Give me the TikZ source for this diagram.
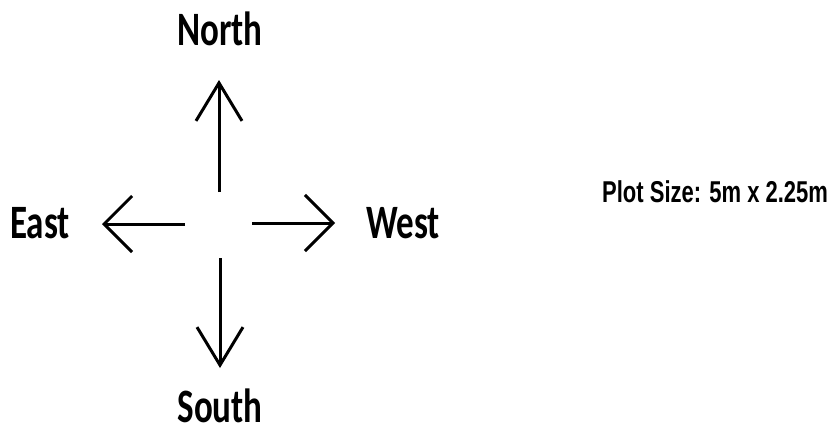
\documentclass[tikz,border=0pt]{standalone}
\usepackage{fontspec}
\setmainfont{Carlito}
\newfontfamily\plotfont{Liberation Sans}
\usetikzlibrary{arrows.meta}
\tikzset{
  dirlabel/.style={inner sep=0pt, font=\fontsize{35}{40}\selectfont\bfseries},
  vbarb/.style={line width=3pt, -{Straight Barb[length=38pt 0, width=46pt 0, line width=3pt]}},
  hbarb/.style={line width=3pt, -{Straight Barb[length=28pt 0, width=56pt 0, line width=3pt]}},
}
\newcommand{\tallbox}[1]{\scalebox{1}[1.37]{#1}}
\begin{document}
\begin{tikzpicture}[x=1pt, y=-1pt]
  \useasboundingbox (0,0) rectangle (833,434);
  % compass labels
  \node[dirlabel, anchor=base] (north) at (220,45) {\tallbox{North}};
  \node[dirlabel, anchor=base] (south) at (220,422) {\tallbox{South}};
  \node[dirlabel, anchor=base west] (east) at (10,238) {\tallbox{East}};
  \node[dirlabel, anchor=base west] (west) at (366,238) {\tallbox{West}};
  % plot size note
  \node[inner sep=0pt, anchor=base west, font=\plotfont\fontsize{22}{26}\selectfont\bfseries] (plotsize) at (602,202) {\tallbox{Plot Size: 5m x 2.25m}};
  % arrow ends
  \coordinate (nstart) at (219,192);
  \coordinate (ntip) at (219,80);
  \coordinate (sstart) at (220,258);
  \coordinate (stip) at (220,368);
  \coordinate (estart) at (185,224);
  \coordinate (etip) at (102,224);
  \coordinate (wstart) at (252,223);
  \coordinate (wtip) at (335,223);
  % arrows
  \draw[vbarb] (nstart) -- (ntip);
  \draw[vbarb] (sstart) -- (stip);
  \draw[hbarb] (estart) -- (etip);
  \draw[hbarb] (wstart) -- (wtip);
\end{tikzpicture}
\end{document}
